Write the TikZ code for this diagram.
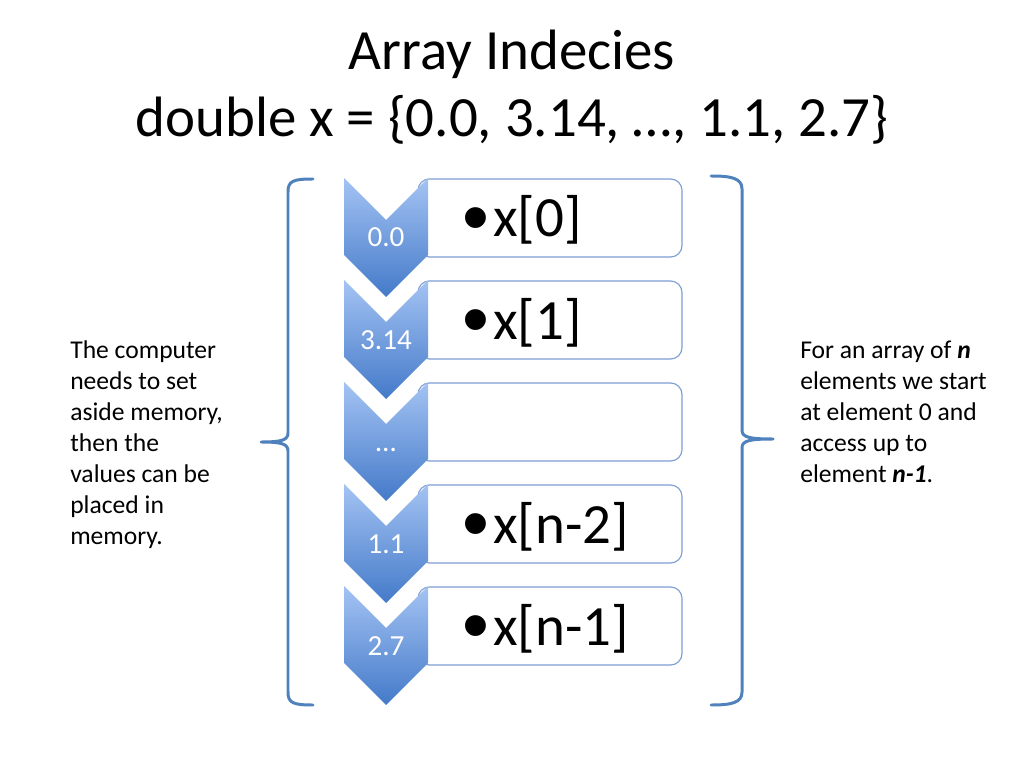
\documentclass[tikz,border=0pt]{standalone}
\usepackage{fontspec}
\setmainfont{Carlito}
\newfontfamily\bulletfont{Liberation Sans}
\definecolor{braceblue}{RGB}{79,129,189}
\definecolor{cellborder}{RGB}{125,158,210}
\definecolor{chevtop}{RGB}{164,195,243}
\definecolor{chevbot}{RGB}{68,122,201}
\begin{document}
\begin{tikzpicture}[x=0.703125pt,y=-0.703125pt,
  brace/.style={draw=braceblue, line width=2.1pt, line cap=round, line join=round},
  cell/.style={draw=cellborder, fill=white, line width=0.8pt, rounded corners=8pt},
  chev/.style={top color=chevtop, bottom color=chevbot, draw=none},
  chevlabel/.style={text=white, font=\fontsize{20.5}{24}\selectfont, anchor=base, inner sep=0pt},
  celltext/.style={font=\fontsize{40}{48}\selectfont, anchor=base west, inner sep=0pt},
  titletext/.style={font=\fontsize{40}{48}\selectfont, anchor=base, inner sep=0pt},
  sidetext/.style={font=\fontsize{18}{21.8}\selectfont, anchor=base west, inner sep=0pt}]
\useasboundingbox (0,0) rectangle (1024,768);
\fill[white] (0,0) rectangle (1024,768);

% title
\node[titletext] (title1) at (512,70) {Array Indecies};
\node[titletext] (title2) at (512,137) {double x = \{0.0, 3.14, …, 1.1, 2.7\}};

% rows: boxes then chevrons
\foreach \T in {178,280,382,484,586}{
  \draw[cell] (418,\T+1) rectangle (682,\T+79);
}
\foreach \T in {178,280,382,484,586}{
  \shade[chev] (344,\T) -- (386,\T+42) -- (428,\T) -- (428,\T+77) -- (386,\T+119) -- (344,\T+77) -- cycle;
}

\newcommand{\bul}{\makebox[19.7pt][l]{\hspace*{-2pt}\raisebox{-4.8pt}{\bulletfont\fontsize{54}{58}\selectfont •}}}
\node[chevlabel] (lab0) at (386,247) {0.0};
\node[chevlabel] (lab1) at (386,349) {3.14};
\node[chevlabel] (lab2) at (386,451) {…};
\node[chevlabel] (lab3) at (386,553) {1.1};
\node[chevlabel] (lab4) at (386,655) {2.7};

\node[celltext] (cell0) at (465,237) {\bul x[0]};
\node[celltext] (cell1) at (465,339) {\bul x[1]};
\node[celltext] (cell3) at (465,543) {\bul x[n-2]};
\node[celltext] (cell4) at (465,645) {\bul x[n-1]};

% braces
\draw[brace] (313,179) .. controls (293,179) and (288,181) .. (288,192) -- (288,433)
  .. controls (288,440) and (282,442) .. (261,442)
  .. controls (282,442) and (288,444) .. (288,451) -- (288,692)
  .. controls (288,703) and (293,705) .. (313,705);
\draw[brace] (711,176) .. controls (731,176) and (742,178) .. (742,189) -- (742,430)
  .. controls (742,437) and (748,439) .. (773,439)
  .. controls (748,439) and (742,441) .. (742,448) -- (742,692)
  .. controls (742,703) and (731,705) .. (711,705);

% side texts
\node[sidetext] (lefttext) at (70,358) {\vtop{\baselineskip=21.8pt
  \hbox{The computer}\hbox{needs to set}\hbox{aside memory,}\hbox{then the}\hbox{values can be}\hbox{placed in}\hbox{memory.}}};
\node[sidetext] (righttext) at (800,358) {\vtop{\baselineskip=21.8pt
  \hbox{For an array of \textbf{\textit{n}}}\hbox{elements we start}\hbox{at element 0 and}\hbox{access up to}\hbox{element \textbf{\textit{n-1}}.}}};
\end{tikzpicture}
\end{document}
